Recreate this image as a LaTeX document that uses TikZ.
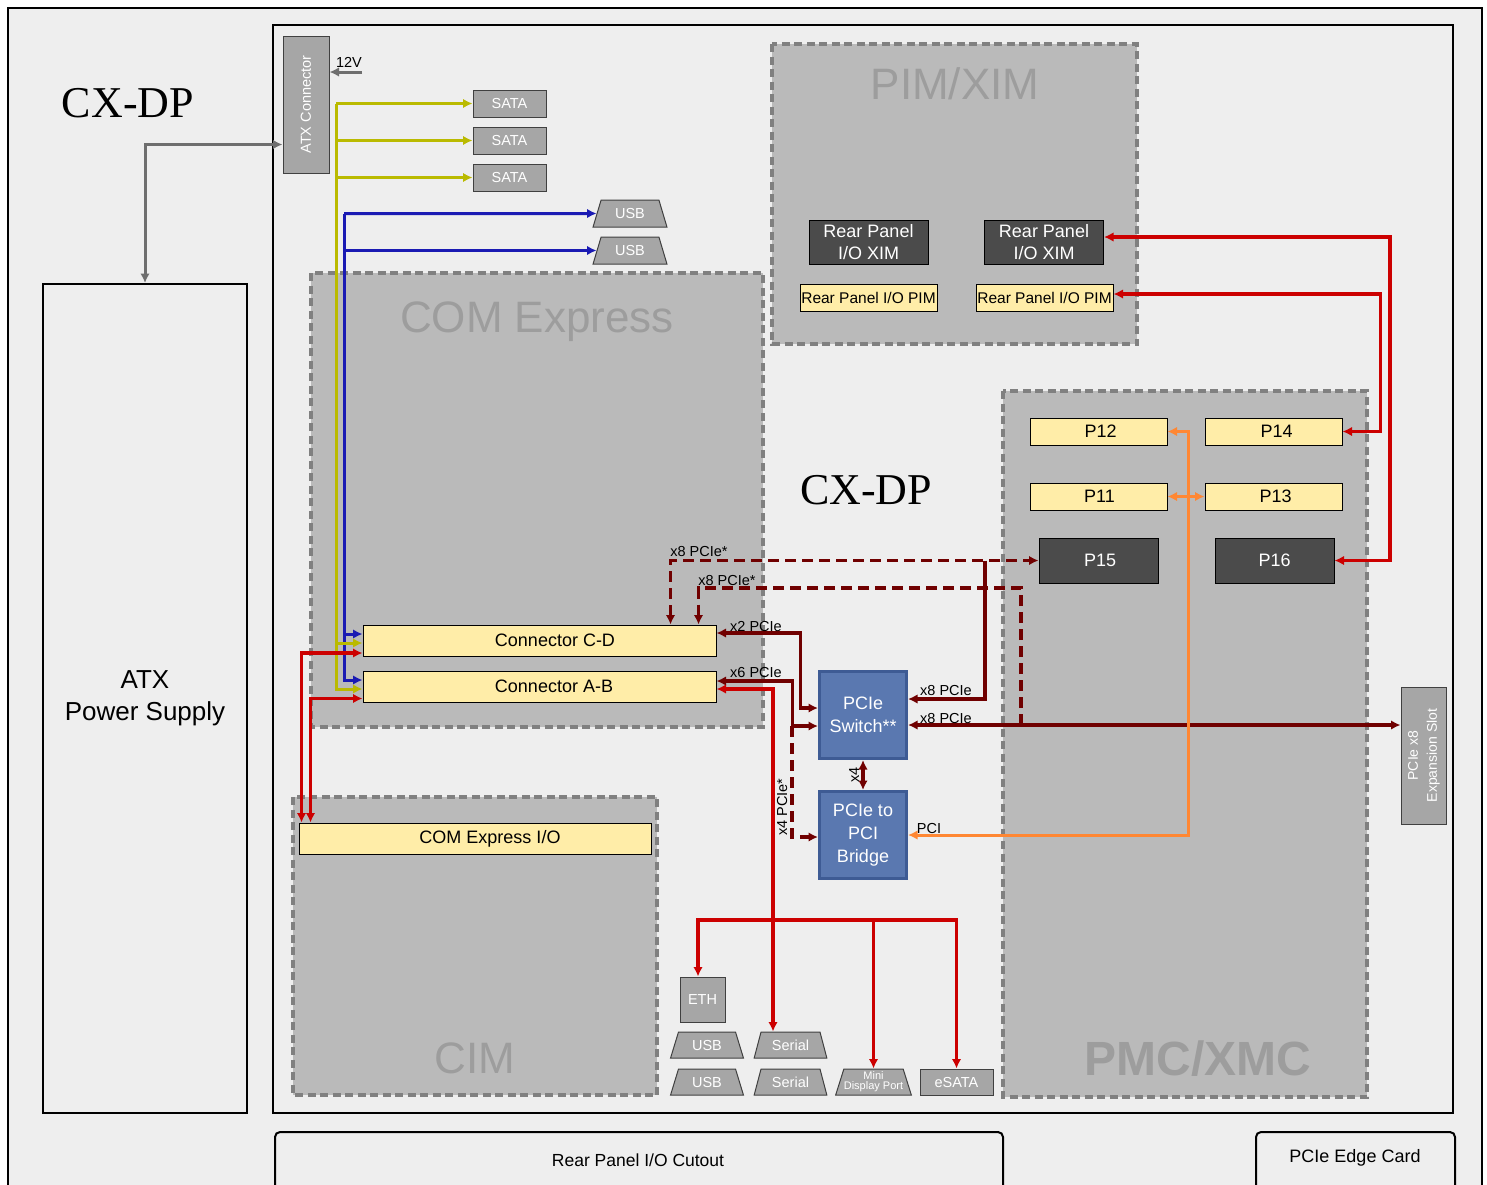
\documentclass[tikz,border=0pt]{standalone}
\usepackage{fontspec}
\setmainfont{Liberation Sans}
\newfontfamily\cxfont{Liberation Serif}
\usepackage{graphicx}
\usepackage{tikz}
\usetikzlibrary{arrows.meta, shapes.geometric}

\definecolor{sfondo}{HTML}{EEEEEE}
\definecolor{areagrigia}{HTML}{BABABA}
\definecolor{bordoarea}{HTML}{808080}
\definecolor{scrittaarea}{HTML}{9D9D9D}
\definecolor{boxgrigio}{HTML}{A6A6A6}
\definecolor{boxscuro}{HTML}{4B4B4B}
\definecolor{giallo}{HTML}{FFEDA8}
\definecolor{bluscheda}{HTML}{5A78B0}
\definecolor{blubordo}{HTML}{3E5B94}
\definecolor{rossoscuro}{HTML}{700000}
\definecolor{rosso}{HTML}{CC0000}
\definecolor{arancio}{HTML}{FF8733}
\definecolor{oliva}{HTML}{BABA00}
\definecolor{blulinea}{HTML}{1A1AB3}
\definecolor{grigiolinea}{HTML}{6E6E6E}

\tikzset{
  area/.style={fill=areagrigia, draw=bordoarea, line width=3.5pt, dash pattern=on 8pt off 4.5pt},
  titoloarea/.style={text=scrittaarea, inner sep=0pt, font=\fontsize{44}{50}\selectfont},
  grigio/.style={draw=black!75, line width=1pt, fill=boxgrigio, text=white, inner sep=0pt,
                 font=\fontsize{14.5}{17}\selectfont},
  porta/.style={grigio, trapezium, trapezium angle=68, trapezium stretches=true,
                minimum width=73pt, minimum height=26pt},
  scuro/.style={draw=black, line width=1pt, fill=boxscuro, text=white, inner sep=0pt, align=center,
                font=\fontsize{18}{22}\selectfont},
  connettore/.style={draw=black, line width=1pt, fill=giallo, inner sep=0pt,
                     font=\fontsize{18}{22}\selectfont},
  chip/.style={draw=blubordo, line width=3pt, fill=bluscheda, text=white, align=center, inner sep=0pt,
               minimum width=87pt, minimum height=87pt, font=\fontsize{18}{23}\selectfont},
  etich/.style={inner sep=0pt, font=\fontsize{14.5}{17}\selectfont},
  lrosso/.style={draw=rosso, line width=3.2pt},
  lscuro/.style={draw=rossoscuro, line width=3.2pt},
  ltratt/.style={lscuro, dash pattern=on 11pt off 6pt},
  lgrigio/.style={draw=grigiolinea, line width=3pt},
  loliva/.style={draw=oliva, line width=3pt},
  lblu/.style={draw=blulinea, line width=3pt},
  larancio/.style={draw=arancio, line width=3pt}
}

\begin{document}
\begin{tikzpicture}[x=1pt, y=-1pt, >={Latex[length=9.5pt,width=9.5pt]}]
  % 1 unita' = 1 pixel del disegno originale
  \useasboundingbox (0,0) rectangle (1487,1184);
  \fill[white] (0,0) rectangle (1487,1184);
  \draw[line width=2pt, fill=sfondo] (8,8) rectangle (1482,1200);
  \draw[line width=2pt] (273,25) rectangle (1453,1113);
  \draw[line width=2pt, rounded corners=5pt] (275,1200) |- (1003,1132) -- (1003,1200);
  \draw[line width=2pt, rounded corners=5pt] (1256,1200) |- (1455,1132) -- (1455,1200);
  \node[inner sep=0pt, font=\fontsize{17.5}{20}\selectfont] (cutout) at (638,1160) {Rear Panel I/O Cutout};
  \node[inner sep=0pt, font=\fontsize{18}{20}\selectfont] (edge) at (1355,1158) {PCIe Edge Card};

  \node[inner sep=0pt, font=\cxfont\fontsize{44}{50}\selectfont] (cx1) at (128,103) {CX-DP};
  \node[inner sep=0pt, font=\cxfont\fontsize{44}{50}\selectfont] (cx2) at (866,490) {CX-DP};

  % alimentatore
  \node[draw, line width=2pt, fill=sfondo, minimum width=204pt, minimum height=829pt, align=center,
        font=\fontsize{26}{32}\selectfont] (psu) at (145,698.5) {ATX\\Power Supply};

  % aree tratteggiate
  \draw[area] (772,44) rectangle (1137,344);
  \node[titoloarea] (tpim) at (955,84) {PIM/XIM};
  \draw[area] (311,273) rectangle (763,727);
  \node[titoloarea] (tcom) at (537,322) {COM Express};
  \draw[area] (293,797) rectangle (657,1095);
  \node[titoloarea] (tcim) at (475,1058) {CIM};
  \draw[area] (1003,391) rectangle (1367,1097);
  \node[titoloarea, font=\bfseries\fontsize{48}{54}\selectfont] (tpmc) at (1198,1059) {PMC/XMC};

  % blocchi
  \node[grigio, minimum width=46pt, minimum height=137pt] (atx) at (306,104.5) {\rotatebox{90}{ATX Connector}};
  \node[grigio, minimum width=73pt, minimum height=27pt] (sata1) at (509.5,103.5) {SATA};
  \node[grigio, minimum width=73pt, minimum height=27pt] (sata2) at (509.5,140.5) {SATA};
  \node[grigio, minimum width=73pt, minimum height=27pt] (sata3) at (509.5,177.5) {SATA};
  \node[porta, minimum width=74pt, minimum height=27pt] (usb1) at (630,213.5) {USB};
  \node[porta, minimum width=74pt, minimum height=27pt] (usb2) at (630,250.5) {USB};

  \node[connettore, minimum width=353pt, minimum height=31pt] (cd) at (539.5,640.5) {\hspace*{31pt}Connector C-D};
  \node[connettore, minimum width=353pt, minimum height=31pt] (ab) at (539.5,686.5) {\hspace*{29pt}Connector A-B};
  \node[connettore, minimum width=352pt, minimum height=31pt] (cio) at (475,838.5) {\hspace*{30pt}COM Express I/O};

  \node[scuro, minimum width=119pt, minimum height=44pt] (xim1) at (868.5,242) {Rear Panel\\I/O XIM};
  \node[scuro, minimum width=119pt, minimum height=44pt] (xim2) at (1044,242) {Rear Panel\\I/O XIM};
  \node[connettore, minimum width=137pt, minimum height=27pt, font=\fontsize{15.5}{18}\selectfont] (pim1) at (868.5,297.5) {Rear Panel I/O PIM};
  \node[connettore, minimum width=137pt, minimum height=27pt, font=\fontsize{15.5}{18}\selectfont] (pim2) at (1044.5,297.5) {Rear Panel I/O PIM};

  \node[connettore, minimum width=137pt, minimum height=27pt] (p12) at (1098.5,431.5) {\hspace*{4pt}P12};
  \node[connettore, minimum width=137pt, minimum height=27pt] (p14) at (1273.5,431.5) {\hspace*{6pt}P14};
  \node[connettore, minimum width=137pt, minimum height=27pt] (p11) at (1098.5,496.5) {\hspace*{2pt}P11};
  \node[connettore, minimum width=137pt, minimum height=27pt] (p13) at (1273.5,496.5) {\hspace*{4pt}P13};
  \node[scuro, minimum width=119pt, minimum height=45pt] (p15) at (1098.5,560.5) {\hspace*{3pt}P15};
  \node[scuro, minimum width=119pt, minimum height=45pt] (p16) at (1274.5,560.5) {P16};

  \node[chip] (sw) at (863,715) {PCIe\\Switch**};
  \node[chip] (br) at (863,835) {PCIe to\\PCI\\Bridge};
  \node[grigio, minimum width=45pt, minimum height=137pt, font=\fontsize{14}{19}\selectfont] (slot) at (1423.5,755.5)
       {\rotatebox{90}{\begin{tabular}{@{}c@{}}PCIe x8\\Expansion Slot\end{tabular}}};

  \node[grigio, minimum width=45pt, minimum height=45pt] (eth) at (702.5,999.5) {ETH};
  \node[porta] (usb3) at (707,1045) {USB};
  \node[porta] (usb4) at (707,1082) {USB};
  \node[porta] (ser1) at (790.5,1045) {Serial};
  \node[porta] (ser2) at (790.5,1082) {Serial};
  \node[porta, align=center, font=\fontsize{11}{10}\selectfont] (mdp) at (873.5,1082) {Mini\\Display Port};
  \node[grigio, minimum width=73pt, minimum height=26pt] (esata) at (956.5,1082) {eSATA};

  % alimentazione
  \draw[lgrigio, <->] (psu.north) |- ([yshift=-40pt]atx.west);
  \coordinate (v12) at (362,72);
  \draw[lgrigio, ->] (v12) -- (v12 -| atx.east);
  \node[etich] (l12) at (349,62) {12V};

  % USB e SATA
  \coordinate (blv) at (344,213.5);
  \draw[lblu, ->] (blv) -- (usb1.west);
  \draw[lblu, ->] (blv |- usb2.west) -- (usb2.west);
  \draw[lblu, ->] (blv) |- ([yshift=6.5pt]cd.west);
  \draw[lblu, ->] (blv) |- ([yshift=6.5pt]ab.west);
  \coordinate (olv) at (336,103.5);
  \draw[loliva, ->] (olv) -- (sata1.west);
  \draw[loliva, ->] (olv |- sata2.west) -- (sata2.west);
  \draw[loliva, ->] (olv |- sata3.west) -- (sata3.west);
  \draw[loliva, ->] (olv) |- ([yshift=-2.5pt]cd.west);
  \draw[loliva, ->] (olv) |- ([yshift=-2.5pt]ab.west);
  \draw[lrosso, <->] ([yshift=-12.5pt]cd.west) -| ([xshift=3pt]cio.north west);
  \draw[lrosso, <->] ([yshift=-12pt]ab.west) -| ([xshift=12pt]cio.north west);

  % PCIe
  \draw[ltratt, <->] ([xshift=-46pt]cd.north east) |- (p15.west);
  \coordinate (j8) at (985,560.5);
  \draw[lscuro, ->] (j8) |- ([yshift=16pt]sw.east);
  \coordinate (s8) at ([yshift=-10pt]sw.east);
  \draw[lscuro, <->] (s8) -- (s8 -| slot.west);
  \coordinate (j21) at (1021,725);
  \draw[ltratt, ->] (j21) -- ++(0,-137) -| ([xshift=-18pt]cd.north east);
  \draw[lscuro, <->] ([yshift=7.5pt]cd.east) -- ++(84,0) |- ([yshift=7pt]sw.west);
  \draw[lscuro, <->] ([yshift=5.5pt]ab.east) -- ++(76,0) |- ([yshift=-11pt]sw.west);
  \coordinate (j6) at (792,726);
  \draw[ltratt, ->] (j6) |- ([yshift=-2pt]br.west);
  \draw[lscuro, <->] (sw.south) -- (br.north);
  \node[etich] (lx8a) at (699,551) {x8 PCIe*};
  \node[etich] (lx8b) at (727,580) {x8 PCIe*};
  \node[etich] (lx2) at (756,626) {x2 PCIe};
  \node[etich] (lx6) at (756,672) {x6 PCIe};
  \node[etich] (lx8c) at (946,690) {x8 PCIe};
  \node[etich] (lx8d) at (946,718) {x8 PCIe};
  \node[etich] (lpci) at (929,828) {PCI};
  \node[etich, rotate=90] (lx4) at (854,775) {x4};
  \node[etich, rotate=90] (lx4b) at (782,807) {x4 PCIe*};

  % PCI e moduli
  \draw[larancio, <->] (br.east) -- ++(280,0) |- (p12.east);
  \draw[larancio, <->] (p11) -- (p13);
  \draw[lrosso, <->] ([yshift=5pt]xim2.east) -- ++(286,0) |- (p16.east);
  \draw[lrosso, <->] ([yshift=3.5pt]pim2.east) -- ++(267,0) |- (p14.east);

  % I/O posteriore
  \draw[lrosso, <->] ([yshift=-2.5pt]ab.east) -| ([xshift=-17.5pt]ser1.north);
  \coordinate (bus) at (773,920);
  \draw[lrosso, ->] (bus) -| ([xshift=-4.5pt]eth.north);
  \draw[lrosso, ->] (bus) -| (mdp.north);
  \draw[lrosso, ->] (bus) -| (esata.north);
\end{tikzpicture}
\end{document}
